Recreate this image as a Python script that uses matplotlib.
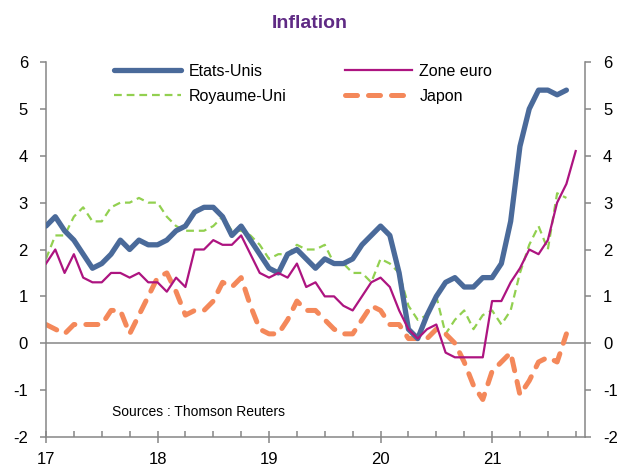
import matplotlib
matplotlib.use("Agg")
import matplotlib.pyplot as plt
import numpy as np

plt.rcParams['font.family'] = ['Liberation Sans', 'DejaVu Sans']

# Monthly year-on-year inflation, starting January 2017
etats_unis = [2.5, 2.7, 2.4, 2.2, 1.9, 1.6, 1.7, 1.9, 2.2, 2.0, 2.2, 2.1,
              2.1, 2.2, 2.4, 2.5, 2.8, 2.9, 2.9, 2.7, 2.3, 2.5, 2.2, 1.9,
              1.6, 1.5, 1.9, 2.0, 1.8, 1.6, 1.8, 1.7, 1.7, 1.8, 2.1, 2.3,
              2.5, 2.3, 1.5, 0.3, 0.1, 0.6, 1.0, 1.3, 1.4, 1.2, 1.2, 1.4,
              1.4, 1.7, 2.6, 4.2, 5.0, 5.4, 5.4, 5.3, 5.4]
zone_euro = [1.7, 2.0, 1.5, 1.9, 1.4, 1.3, 1.3, 1.5, 1.5, 1.4, 1.5, 1.3,
             1.3, 1.1, 1.4, 1.2, 2.0, 2.0, 2.2, 2.1, 2.1, 2.3, 1.9, 1.5,
             1.4, 1.5, 1.4, 1.7, 1.2, 1.3, 1.0, 1.0, 0.8, 0.7, 1.0, 1.3,
             1.4, 1.2, 0.7, 0.3, 0.1, 0.3, 0.4, -0.2, -0.3, -0.3, -0.3, -0.3,
             0.9, 0.9, 1.3, 1.6, 2.0, 1.9, 2.2, 3.0, 3.4, 4.1]
royaume_uni = [1.8, 2.3, 2.3, 2.7, 2.9, 2.6, 2.6, 2.9, 3.0, 3.0, 3.1, 3.0,
               3.0, 2.7, 2.5, 2.4, 2.4, 2.4, 2.5, 2.7, 2.4, 2.4, 2.3, 2.1,
               1.8, 1.9, 1.9, 2.1, 2.0, 2.0, 2.1, 1.7, 1.7, 1.5, 1.5, 1.3,
               1.8, 1.7, 1.5, 0.8, 0.5, 0.6, 1.0, 0.2, 0.5, 0.7, 0.3, 0.6,
               0.7, 0.4, 0.7, 1.5, 2.1, 2.5, 2.0, 3.2, 3.1]
japon = [0.4, 0.3, 0.2, 0.4, 0.4, 0.4, 0.4, 0.7, 0.7, 0.2, 0.6, 1.0,
         1.4, 1.5, 1.1, 0.6, 0.7, 0.7, 0.9, 1.3, 1.2, 1.4, 0.8, 0.3,
         0.2, 0.2, 0.5, 0.9, 0.7, 0.7, 0.5, 0.3, 0.2, 0.2, 0.5, 0.8,
         0.7, 0.4, 0.4, 0.1, 0.1, 0.1, 0.3, 0.2, 0.0, -0.4, -0.9, -1.2,
         -0.6, -0.4, -0.2, -1.1, -0.8, -0.4, -0.3, -0.4, 0.2]

year_ticks = [17, 18, 19, 20, 21]
year_labels = ['17', '18', '19', '20', '21']
y_ticks = [-2, -1, 0, 1, 2, 3, 4, 5, 6]

def months(series):
    return 17 + np.arange(len(series)) / 12.0

W, H = 618, 468
fig = plt.figure(figsize=(W / 100, H / 100), dpi=100)
left, right, top, bottom = 46, 585, 62, 437
ax = fig.add_axes([left / W, (H - bottom) / H, (right - left) / W, (bottom - top) / H])

grey = '#868686'
ax.axhline(0, color=grey, lw=1.1, zorder=1)

l_us, = ax.plot(months(etats_unis), etats_unis, color='#4A6A9A', lw=3.8,
                solid_capstyle='round', solid_joinstyle='round', label='Etats-Unis', zorder=3)
l_eu, = ax.plot(months(zone_euro), zone_euro, color='#AD1480', lw=1.6,
                label='Zone euro', zorder=4)
l_uk, = ax.plot(months(royaume_uni), royaume_uni, color='#92D050', lw=1.6,
                dashes=(3.5, 2.2), label='Royaume-Uni', zorder=2)
l_jp, = ax.plot(months(japon), japon, color='#F4885A', lw=3.6,
                dashes=(2.4, 2.2), dash_capstyle='round', label='Japon', zorder=2)

ax.set_xlim(17, 21 + 10 / 12)
ax.set_ylim(-2, 6)
ax.set_yticks(y_ticks)
ax.set_yticklabels([str(t) for t in y_ticks])
ax.set_xticks(year_ticks)
ax.set_xticklabels(year_labels)
ax.set_xticks(np.arange(17, 21.9, 0.25), minor=True)

ax.spines['top'].set_visible(False)
for s in ['left', 'right', 'bottom']:
    ax.spines[s].set_color(grey)
    ax.spines[s].set_linewidth(1.1)

ax.tick_params(axis='y', which='both', direction='out', length=4, width=1.1, color=grey,
               labelsize=12, pad=9, left=True, right=True, labelleft=True, labelright=True)
ax.tick_params(axis='x', which='major', direction='inout', length=8, width=1.1, color=grey,
               labelsize=12, pad=6.5)
ax.tick_params(axis='x', which='minor', direction='in', length=4, width=1.1, color=grey)

leg = ax.legend(handles=[l_us, l_uk, l_eu, l_jp], ncol=2, loc='upper left',
                bbox_to_anchor=((114 - left) / (right - left), 1.0 - 2 / (bottom - top)),
                frameon=False, fontsize=11.5, handlelength=4.2, handletextpad=0.45,
                columnspacing=3.7, labelspacing=0.6, borderaxespad=0, borderpad=0)

ax.text((112 - left) / (right - left), (bottom - 412) / (bottom - top), 'Sources : Thomson Reuters',
        transform=ax.transAxes, fontsize=10, va='center', ha='left')

fig.text(310 / W, 1 - 23 / H, 'Inflation', color='#5F2A84', fontsize=14, fontweight='bold',
         ha='center', va='center')

fig.savefig('out.png', dpi=100)
